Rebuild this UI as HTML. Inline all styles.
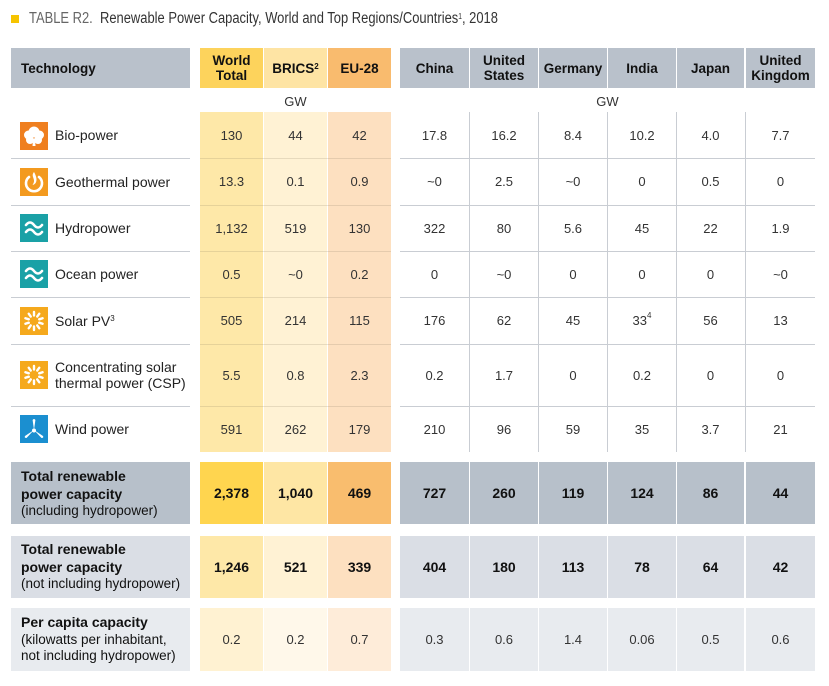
<!DOCTYPE html>
<html><head><meta charset="utf-8">
<style>
*{margin:0;padding:0;box-sizing:border-box}
body{width:829px;height:686px;background:#fff;position:relative;overflow:hidden;font-family:"Liberation Sans",Arial,sans-serif;color:#222}
.a{position:absolute}
.c{position:absolute;display:flex;align-items:center;justify-content:center;text-align:center}
.h{font-weight:bold;font-size:13.5px;line-height:15px;color:#111}
.n{font-size:13px;color:#333}
.b{font-weight:bold;font-size:14px;color:#111}
.g{background:#b9c1cb}
.tl{position:absolute;left:21px;font-size:13.5px;line-height:16.5px;color:#111;white-space:nowrap}
.tl b{font-weight:bold;font-size:14px}
.nm{position:absolute;left:55px;font-size:14px;color:#222;display:flex;align-items:center;line-height:16px}
.ic{position:absolute;left:20px;width:28px;height:28px}
.hl{position:absolute;height:1px;background:#c9cdd3}
.hy{position:absolute;height:1px;background:rgba(120,110,90,0.18)}
.vl{position:absolute;width:1px;top:112px;height:340px;background:#c9cdd3}
sup{font-size:8px;vertical-align:top;position:relative;top:-2px}
</style></head><body>

<!-- title -->
<div class="a" style="left:11px;top:15px;width:8px;height:8px;background:#f6c400"></div>
<div class="a" style="left:29px;top:10px;font-size:15.5px;line-height:18px;color:#333;white-space:nowrap;transform:scaleX(0.835);transform-origin:0 0"><span style="color:#666">TABLE R2.</span>&nbsp;&nbsp;Renewable Power Capacity, World and Top Regions/Countries<sup style="font-size:8px">1</sup>, 2018</div>

<!-- header -->
<div class="c h g" style="left:11px;top:48px;width:179px;height:40px;justify-content:flex-start;padding-left:10px">Technology</div>
<div class="c h" style="left:200px;top:48px;width:63px;height:40px;background:#fdd35c">World<br>Total</div>
<div class="c h" style="left:264px;top:48px;width:63px;height:40px;background:#fee4a4">BRICS<sup>2</sup></div>
<div class="c h" style="left:328px;top:48px;width:63px;height:40px;background:#f9bb6e">EU-28</div>
<div class="c h g" style="left:400px;top:48px;width:69px;height:40px">China</div>
<div class="c h g" style="left:470px;top:48px;width:68px;height:40px">United<br>States</div>
<div class="c h g" style="left:539px;top:48px;width:68px;height:40px">Germany</div>
<div class="c h g" style="left:608px;top:48px;width:68px;height:40px">India</div>
<div class="c h g" style="left:677px;top:48px;width:67px;height:40px">Japan</div>
<div class="c h g" style="left:746px;top:48px;width:69px;height:40px">United<br>Kingdom</div>

<div class="c n" style="left:264px;top:92px;width:63px;height:18px">GW</div>
<div class="c n" style="left:573px;top:92px;width:69px;height:18px">GW</div>

<!-- yellow data columns -->
<div class="a" style="left:200px;top:112px;width:63px;height:340px;background:#fee8a8"></div>
<div class="a" style="left:264px;top:112px;width:63px;height:340px;background:#fff2d4"></div>
<div class="a" style="left:328px;top:112px;width:63px;height:340px;background:#fde0c0"></div>

<!-- row lines -->
<div class="hl" style="left:11px;width:179px;top:158px"></div>
<div class="hl" style="left:11px;width:179px;top:205px"></div>
<div class="hl" style="left:11px;width:179px;top:251px"></div>
<div class="hl" style="left:11px;width:179px;top:297px"></div>
<div class="hl" style="left:11px;width:179px;top:344px"></div>
<div class="hl" style="left:11px;width:179px;top:406px"></div>
<div class="hy" style="left:200px;width:191px;top:158px"></div>
<div class="hy" style="left:200px;width:191px;top:205px"></div>
<div class="hy" style="left:200px;width:191px;top:251px"></div>
<div class="hy" style="left:200px;width:191px;top:297px"></div>
<div class="hy" style="left:200px;width:191px;top:344px"></div>
<div class="hy" style="left:200px;width:191px;top:406px"></div>
<div class="hl" style="left:400px;width:415px;top:158px"></div>
<div class="hl" style="left:400px;width:415px;top:205px"></div>
<div class="hl" style="left:400px;width:415px;top:251px"></div>
<div class="hl" style="left:400px;width:415px;top:297px"></div>
<div class="hl" style="left:400px;width:415px;top:344px"></div>
<div class="hl" style="left:400px;width:415px;top:406px"></div>
<div class="vl" style="left:469px"></div>
<div class="vl" style="left:538px"></div>
<div class="vl" style="left:607px"></div>
<div class="vl" style="left:676px"></div>
<div class="vl" style="left:745px"></div>

<!-- icons -->
<svg class="ic" style="top:122px" viewBox="0 0 28 28"><rect width="28" height="28" fill="#ef7f1f"/><g fill="#fff"><circle cx="14" cy="10" r="5.5"/><circle cx="8.5" cy="13" r="4.5"/><circle cx="19.5" cy="13" r="4.5"/><circle cx="10" cy="18" r="4"/><circle cx="18" cy="18" r="4"/><path d="M13 17 L15 17 L15.5 24 L12.5 24 Z"/></g></svg>
<svg class="ic" style="top:168px" viewBox="0 0 28 28"><rect width="28" height="28" fill="#f39a1f"/><path d="M9 9 A8 8 0 1 0 19 9" fill="none" stroke="#fff" stroke-width="2.6" stroke-linecap="round"/><path d="M14 4 C10 9 17 11 12.5 17 C17 16 18 11 14 4 Z" fill="#fff"/></svg>
<svg class="ic" style="top:214px" viewBox="0 0 28 28"><rect width="28" height="28" fill="#1aa1a6"/><g fill="none" stroke="#fff" stroke-width="2.6" stroke-linecap="round"><path d="M6 11 q4 -5 8 0 t8 0"/><path d="M6 18 q4 -5 8 0 t8 0"/></g></svg>
<svg class="ic" style="top:260px" viewBox="0 0 28 28"><rect width="28" height="28" fill="#1aa1a6"/><g fill="none" stroke="#fff" stroke-width="2.6" stroke-linecap="round"><path d="M6 11 q4 -5 8 0 t8 0"/><path d="M6 18 q4 -5 8 0 t8 0"/></g></svg>
<svg class="ic" style="top:307px" viewBox="0 0 28 28"><rect width="28" height="28" fill="#f5a91d"/><g stroke="#fff" stroke-width="2.4" stroke-linecap="round"><line x1="14" y1="5" x2="14" y2="8.5" transform="rotate(0 14 14)"/><line x1="14" y1="5" x2="14" y2="8.5" transform="rotate(36 14 14)"/><line x1="14" y1="5" x2="14" y2="8.5" transform="rotate(72 14 14)"/><line x1="14" y1="5" x2="14" y2="8.5" transform="rotate(108 14 14)"/><line x1="14" y1="5" x2="14" y2="8.5" transform="rotate(144 14 14)"/><line x1="14" y1="5" x2="14" y2="8.5" transform="rotate(180 14 14)"/><line x1="14" y1="5" x2="14" y2="8.5" transform="rotate(216 14 14)"/><line x1="14" y1="5" x2="14" y2="8.5" transform="rotate(252 14 14)"/><line x1="14" y1="5" x2="14" y2="8.5" transform="rotate(288 14 14)"/><line x1="14" y1="5" x2="14" y2="8.5" transform="rotate(324 14 14)"/></g></svg>
<svg class="ic" style="top:361px" viewBox="0 0 28 28"><rect width="28" height="28" fill="#f5a91d"/><g stroke="#fff" stroke-width="2.4" stroke-linecap="round"><line x1="14" y1="5" x2="14" y2="8.5" transform="rotate(0 14 14)"/><line x1="14" y1="5" x2="14" y2="8.5" transform="rotate(36 14 14)"/><line x1="14" y1="5" x2="14" y2="8.5" transform="rotate(72 14 14)"/><line x1="14" y1="5" x2="14" y2="8.5" transform="rotate(108 14 14)"/><line x1="14" y1="5" x2="14" y2="8.5" transform="rotate(144 14 14)"/><line x1="14" y1="5" x2="14" y2="8.5" transform="rotate(180 14 14)"/><line x1="14" y1="5" x2="14" y2="8.5" transform="rotate(216 14 14)"/><line x1="14" y1="5" x2="14" y2="8.5" transform="rotate(252 14 14)"/><line x1="14" y1="5" x2="14" y2="8.5" transform="rotate(288 14 14)"/><line x1="14" y1="5" x2="14" y2="8.5" transform="rotate(324 14 14)"/></g></svg>
<svg class="ic" style="top:415px" viewBox="0 0 28 28"><rect width="28" height="28" fill="#1b8fd0"/><g fill="#fff"><path d="M14 15 L12.6 5 Q14 3 15.4 5 Z"/><path d="M14 15 L5 21 Q4 23 6.5 23 Z"/><path d="M14 15 L23 21 Q24 23 21.5 23 Z"/><circle cx="14" cy="15.5" r="2"/></g></svg>

<!-- tech names -->
<div class="nm" style="top:112px;height:46px">Bio-power</div>
<div class="nm" style="top:158px;height:47px">Geothermal power</div>
<div class="nm" style="top:205px;height:46px">Hydropower</div>
<div class="nm" style="top:251px;height:46px">Ocean power</div>
<div class="nm" style="top:297px;height:47px">Solar PV<sup>3</sup></div>
<div class="nm" style="top:344px;height:62px">Concentrating solar<br>thermal power (CSP)</div>
<div class="nm" style="top:406px;height:46px">Wind power</div>

<!-- data rows -->
<!-- bio -->
<div class="c n" style="left:200px;top:112px;width:63px;height:46px">130</div>
<div class="c n" style="left:264px;top:112px;width:63px;height:46px">44</div>
<div class="c n" style="left:328px;top:112px;width:63px;height:46px">42</div>
<div class="c n" style="left:400px;top:112px;width:69px;height:46px">17.8</div>
<div class="c n" style="left:470px;top:112px;width:68px;height:46px">16.2</div>
<div class="c n" style="left:539px;top:112px;width:68px;height:46px">8.4</div>
<div class="c n" style="left:608px;top:112px;width:68px;height:46px">10.2</div>
<div class="c n" style="left:677px;top:112px;width:67px;height:46px">4.0</div>
<div class="c n" style="left:746px;top:112px;width:69px;height:46px">7.7</div>
<!-- geo -->
<div class="c n" style="left:200px;top:158px;width:63px;height:47px">13.3</div>
<div class="c n" style="left:264px;top:158px;width:63px;height:47px">0.1</div>
<div class="c n" style="left:328px;top:158px;width:63px;height:47px">0.9</div>
<div class="c n" style="left:400px;top:158px;width:69px;height:47px">~0</div>
<div class="c n" style="left:470px;top:158px;width:68px;height:47px">2.5</div>
<div class="c n" style="left:539px;top:158px;width:68px;height:47px">~0</div>
<div class="c n" style="left:608px;top:158px;width:68px;height:47px">0</div>
<div class="c n" style="left:677px;top:158px;width:67px;height:47px">0.5</div>
<div class="c n" style="left:746px;top:158px;width:69px;height:47px">0</div>
<!-- hydro -->
<div class="c n" style="left:200px;top:205px;width:63px;height:46px">1,132</div>
<div class="c n" style="left:264px;top:205px;width:63px;height:46px">519</div>
<div class="c n" style="left:328px;top:205px;width:63px;height:46px">130</div>
<div class="c n" style="left:400px;top:205px;width:69px;height:46px">322</div>
<div class="c n" style="left:470px;top:205px;width:68px;height:46px">80</div>
<div class="c n" style="left:539px;top:205px;width:68px;height:46px">5.6</div>
<div class="c n" style="left:608px;top:205px;width:68px;height:46px">45</div>
<div class="c n" style="left:677px;top:205px;width:67px;height:46px">22</div>
<div class="c n" style="left:746px;top:205px;width:69px;height:46px">1.9</div>
<!-- ocean -->
<div class="c n" style="left:200px;top:251px;width:63px;height:46px">0.5</div>
<div class="c n" style="left:264px;top:251px;width:63px;height:46px">~0</div>
<div class="c n" style="left:328px;top:251px;width:63px;height:46px">0.2</div>
<div class="c n" style="left:400px;top:251px;width:69px;height:46px">0</div>
<div class="c n" style="left:470px;top:251px;width:68px;height:46px">~0</div>
<div class="c n" style="left:539px;top:251px;width:68px;height:46px">0</div>
<div class="c n" style="left:608px;top:251px;width:68px;height:46px">0</div>
<div class="c n" style="left:677px;top:251px;width:67px;height:46px">0</div>
<div class="c n" style="left:746px;top:251px;width:69px;height:46px">~0</div>
<!-- solar -->
<div class="c n" style="left:200px;top:297px;width:63px;height:47px">505</div>
<div class="c n" style="left:264px;top:297px;width:63px;height:47px">214</div>
<div class="c n" style="left:328px;top:297px;width:63px;height:47px">115</div>
<div class="c n" style="left:400px;top:297px;width:69px;height:47px">176</div>
<div class="c n" style="left:470px;top:297px;width:68px;height:47px">62</div>
<div class="c n" style="left:539px;top:297px;width:68px;height:47px">45</div>
<div class="c n" style="left:608px;top:297px;width:68px;height:47px"><span>33<sup>4</sup></span></div>
<div class="c n" style="left:677px;top:297px;width:67px;height:47px">56</div>
<div class="c n" style="left:746px;top:297px;width:69px;height:47px">13</div>
<!-- csp -->
<div class="c n" style="left:200px;top:344px;width:63px;height:62px">5.5</div>
<div class="c n" style="left:264px;top:344px;width:63px;height:62px">0.8</div>
<div class="c n" style="left:328px;top:344px;width:63px;height:62px">2.3</div>
<div class="c n" style="left:400px;top:344px;width:69px;height:62px">0.2</div>
<div class="c n" style="left:470px;top:344px;width:68px;height:62px">1.7</div>
<div class="c n" style="left:539px;top:344px;width:68px;height:62px">0</div>
<div class="c n" style="left:608px;top:344px;width:68px;height:62px">0.2</div>
<div class="c n" style="left:677px;top:344px;width:67px;height:62px">0</div>
<div class="c n" style="left:746px;top:344px;width:69px;height:62px">0</div>
<!-- wind -->
<div class="c n" style="left:200px;top:406px;width:63px;height:46px">591</div>
<div class="c n" style="left:264px;top:406px;width:63px;height:46px">262</div>
<div class="c n" style="left:328px;top:406px;width:63px;height:46px">179</div>
<div class="c n" style="left:400px;top:406px;width:69px;height:46px">210</div>
<div class="c n" style="left:470px;top:406px;width:68px;height:46px">96</div>
<div class="c n" style="left:539px;top:406px;width:68px;height:46px">59</div>
<div class="c n" style="left:608px;top:406px;width:68px;height:46px">35</div>
<div class="c n" style="left:677px;top:406px;width:67px;height:46px">3.7</div>
<div class="c n" style="left:746px;top:406px;width:69px;height:46px">21</div>

<!-- total 1 -->
<div class="a" style="left:11px;top:462px;width:179px;height:62px;background:#b7c0ca"></div>
<div class="tl" style="top:468px"><b>Total renewable<br>power capacity</b><br>(including hydropower)</div>
<div class="c b" style="left:200px;top:462px;width:63px;height:62px;background:#ffd54f">2,378</div>
<div class="c b" style="left:264px;top:462px;width:63px;height:62px;background:#fee6a4">1,040</div>
<div class="c b" style="left:328px;top:462px;width:63px;height:62px;background:#f9bd6e">469</div>
<div class="c b" style="left:400px;top:462px;width:69px;height:62px;background:#b7c0ca">727</div>
<div class="c b" style="left:470px;top:462px;width:68px;height:62px;background:#b7c0ca">260</div>
<div class="c b" style="left:539px;top:462px;width:68px;height:62px;background:#b7c0ca">119</div>
<div class="c b" style="left:608px;top:462px;width:68px;height:62px;background:#b7c0ca">124</div>
<div class="c b" style="left:677px;top:462px;width:67px;height:62px;background:#b7c0ca">86</div>
<div class="c b" style="left:746px;top:462px;width:69px;height:62px;background:#b7c0ca">44</div>

<!-- total 2 -->
<div class="a" style="left:11px;top:536px;width:179px;height:62px;background:#dadee5"></div>
<div class="tl" style="top:541px"><b>Total renewable<br>power capacity</b><br>(not including hydropower)</div>
<div class="c b" style="left:200px;top:536px;width:63px;height:62px;background:#fee8a8">1,246</div>
<div class="c b" style="left:264px;top:536px;width:63px;height:62px;background:#fff2d4">521</div>
<div class="c b" style="left:328px;top:536px;width:63px;height:62px;background:#fde0c0">339</div>
<div class="c b" style="left:400px;top:536px;width:69px;height:62px;background:#dadee5">404</div>
<div class="c b" style="left:470px;top:536px;width:68px;height:62px;background:#dadee5">180</div>
<div class="c b" style="left:539px;top:536px;width:68px;height:62px;background:#dadee5">113</div>
<div class="c b" style="left:608px;top:536px;width:68px;height:62px;background:#dadee5">78</div>
<div class="c b" style="left:677px;top:536px;width:67px;height:62px;background:#dadee5">64</div>
<div class="c b" style="left:746px;top:536px;width:69px;height:62px;background:#dadee5">42</div>

<!-- per capita -->
<div class="a" style="left:11px;top:608px;width:179px;height:63px;background:#e8ebef"></div>
<div class="tl" style="top:614px"><b>Per capita capacity</b><br>(kilowatts per inhabitant,<br>not including hydropower)</div>
<div class="c n" style="left:200px;top:608px;width:63px;height:63px;background:#fff2d2">0.2</div>
<div class="c n" style="left:264px;top:608px;width:63px;height:63px;background:#fff8ea">0.2</div>
<div class="c n" style="left:328px;top:608px;width:63px;height:63px;background:#feecd9">0.7</div>
<div class="c n" style="left:400px;top:608px;width:69px;height:63px;background:#e8ebef">0.3</div>
<div class="c n" style="left:470px;top:608px;width:68px;height:63px;background:#e8ebef">0.6</div>
<div class="c n" style="left:539px;top:608px;width:68px;height:63px;background:#e8ebef">1.4</div>
<div class="c n" style="left:608px;top:608px;width:68px;height:63px;background:#e8ebef">0.06</div>
<div class="c n" style="left:677px;top:608px;width:67px;height:63px;background:#e8ebef">0.5</div>
<div class="c n" style="left:746px;top:608px;width:69px;height:63px;background:#e8ebef">0.6</div>

</body></html>
